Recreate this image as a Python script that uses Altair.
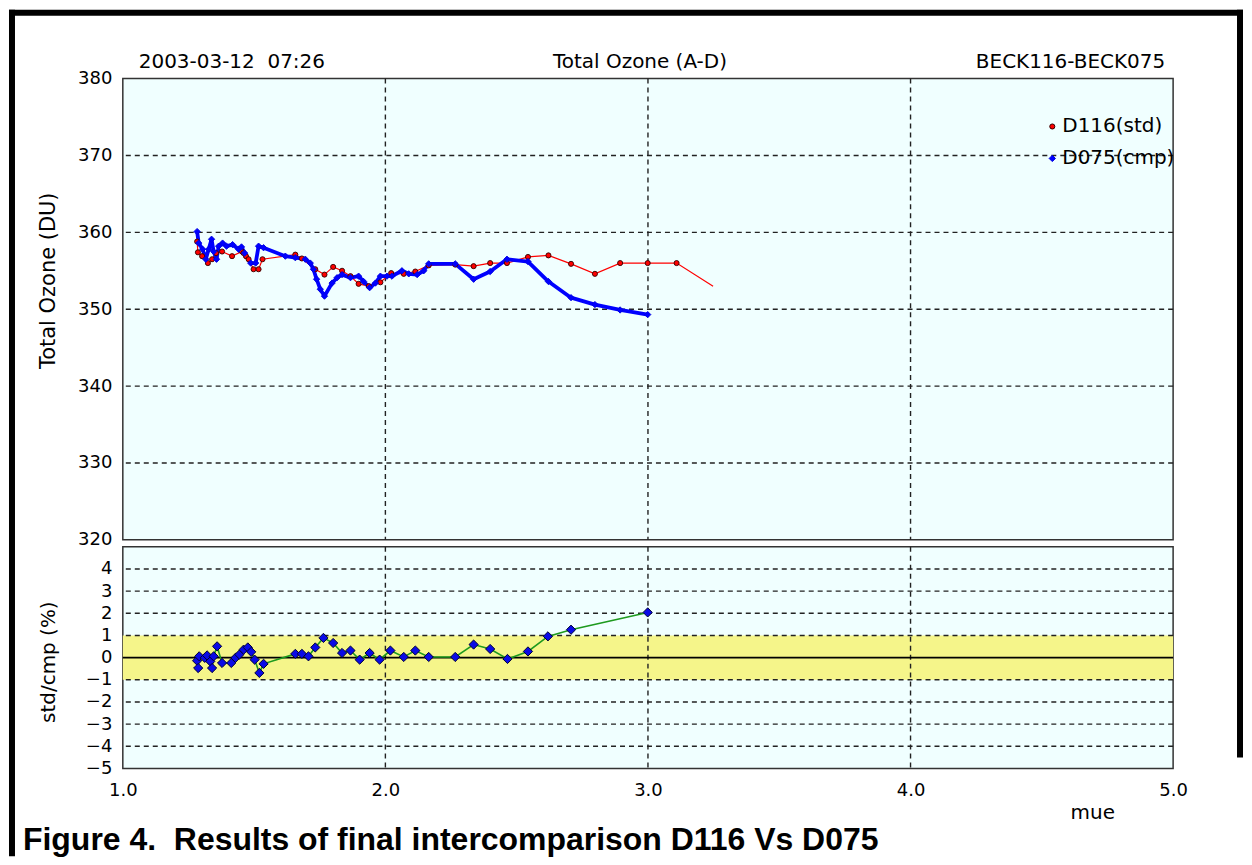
import altair as alt
import pandas as pd

# ---------------- data ----------------
mu_std = [1.283, 1.286, 1.302, 1.324, 1.340, 1.355, 1.378, 1.416, 1.454, 1.460,
          1.469, 1.479, 1.498, 1.517, 1.532, 1.657, 1.682, 1.733, 1.768, 1.801,
          1.835, 1.867, 1.898, 1.937, 1.981, 2.022, 2.070, 2.114, 2.165, 2.266,
          2.336, 2.399, 2.463, 2.543, 2.621, 2.707, 2.798, 2.894, 2.999, 3.109,
          3.248]
oz_std = [358.8, 357.4, 356.9, 356.0, 356.5, 357.3, 357.5, 356.9, 357.5, 357.3,
          356.9, 356.5, 355.2, 355.2, 356.5, 357.1, 356.6, 355.2, 354.5, 355.5,
          355.0, 354.3, 353.3, 353.0, 353.5, 354.7, 354.6, 354.9, 355.7, 355.8,
          355.6, 356.0, 356.0, 356.8, 357.0, 355.9, 354.6, 356.0, 356.0, 356.0,
          353.0]

mu_cmp = [1.283, 1.289, 1.304, 1.316, 1.327, 1.338, 1.346, 1.357, 1.365, 1.380,
          1.395, 1.418, 1.441, 1.452, 1.464, 1.487, 1.506, 1.517, 1.536, 1.619,
          1.657, 1.695, 1.714, 1.726, 1.738, 1.752, 1.768, 1.797, 1.816, 1.835,
          1.867, 1.898, 1.917, 1.940, 1.962, 1.981, 2.006, 2.025, 2.063, 2.089,
          2.121, 2.146, 2.165, 2.266, 2.336, 2.399, 2.463, 2.543, 2.621, 2.707,
          2.798, 2.894, 2.999]
oz_cmp = [360.1, 358.6, 357.8, 356.5, 357.8, 359.1, 357.5, 356.5, 358.2, 358.6,
          358.2, 358.4, 357.8, 358.1, 357.3, 356.0, 356.0, 358.2, 358.0, 356.9,
          356.7, 356.5, 356.0, 355.2, 353.9, 352.6, 351.7, 353.4, 354.1, 354.5,
          354.1, 354.3, 353.6, 352.8, 353.4, 354.3, 354.3, 354.3, 355.0, 354.6,
          354.5, 355.0, 355.9, 355.9, 353.9, 354.9, 356.5, 356.2, 353.6, 351.5,
          350.6, 349.9, 349.3]

mu_ratio = [1.283, 1.287, 1.291, 1.312, 1.321, 1.333, 1.340, 1.346, 1.359, 1.378,
            1.413, 1.429, 1.444, 1.460, 1.476, 1.489, 1.502, 1.520, 1.536, 1.657,
            1.682, 1.707, 1.733, 1.764, 1.801, 1.835, 1.867, 1.902, 1.940, 1.978,
            2.019, 2.070, 2.114, 2.165, 2.266, 2.336, 2.399, 2.465, 2.543, 2.619,
            2.707, 2.999]
ratio = [-0.14, -0.47, 0.06, -0.01, 0.10, -0.17, -0.47, 0.06, 0.51, -0.24,
         -0.24, -0.01, 0.14, 0.36, 0.46, 0.26, -0.09, -0.69, -0.28, 0.17,
         0.17, 0.06, 0.46, 0.89, 0.66, 0.21, 0.32, -0.09, 0.21, -0.09,
         0.32, 0.03, 0.32, 0.03, 0.03, 0.59, 0.39, -0.06, 0.28, 0.96,
         1.26, 2.04]

series_names = ["D116(std)", "D075(cmp)"]
x_ticks = [1.0, 2.0, 3.0, 4.0, 5.0]
x_grid = [2.0, 3.0, 4.0]
oz_ticks = [320, 330, 340, 350, 360, 370, 380]
oz_grid = [330, 340, 350, 360, 370]
ratio_ticks = [-5, -4, -3, -2, -1, 0, 1, 2, 3, 4]
ratio_grid = [-4, -3, -2, -1, 1, 2, 3, 4]
band_lo, band_hi = [-1], [1]
zero_line = [0]
header_left = ["2003-03-12 \u00a007:26"]
header_center = ["Total Ozone (A-D)"]
header_right = ["BECK116-BECK075"]
caption = ["Figure 4. \u00a0Results of final intercomparison D116 Vs D075"]

# ---------------- styling ----------------
FONT = "DejaVu Sans"
W, H1, H2 = 1052, 462, 222
GRID = dict(color="#222222", strokeDash=[5, 4], strokeWidth=1.4)

xscale = alt.Scale(domain=[1, 5], nice=False, zero=False)
ozscale = alt.Scale(domain=[320, 380], nice=False, zero=False)
rscale = alt.Scale(domain=[-5, 5], nice=False, zero=False)

oz_axis = alt.Axis(values=oz_ticks, grid=False, ticks=False, tickSize=0, domain=False,
                   labelPadding=11, labelFontSize=18, labelFont=FONT, labelColor="black",
                   title="Total Ozone (DU)", titleFont=FONT, titleFontSize=21,
                   titleFontWeight="normal", titleColor="black", titleAngle=270,
                   titleBaseline="middle", titleAlign="center", titleX=-74, titleY=202)
r_axis = alt.Axis(values=ratio_ticks, grid=False, ticks=False, tickSize=0, domain=False,
                  labelPadding=11, labelFontSize=18, labelFont=FONT, labelColor="black",
                  title="std/cmp (%)", titleFont=FONT, titleFontSize=20,
                  titleFontWeight="normal", titleColor="black", titleAngle=270,
                  titleBaseline="middle", titleAlign="center", titleX=-74, titleY=115)
x_axis = alt.Axis(values=x_ticks, format=".1f", grid=False, ticks=False, tickSize=0,
                  domain=False, labelPadding=13, labelFontSize=18, labelFont=FONT,
                  labelColor="black", labelFlush=False, labelOverlap=False,
                  title="mue", titleFont=FONT, titleFontSize=20, titleFontWeight="normal",
                  titleColor="black", titleX=971, titleY=50, titleBaseline="alphabetic",
                  titleAlign="center")

X_top = alt.X("mu:Q", scale=xscale, axis=None)
X_bot = alt.X("mu:Q", scale=xscale, axis=x_axis)
Y_top = alt.Y("oz:Q", scale=ozscale, axis=oz_axis)
Y_bot = alt.Y("r:Q", scale=rscale, axis=r_axis)

# ---------------- tables ----------------
std_df = pd.DataFrame({"mu": mu_std, "oz": oz_std, "i": range(len(mu_std))})
cmp_df = pd.DataFrame({"mu": mu_cmp, "oz": oz_cmp, "i": range(len(mu_cmp))})
pts_df = pd.concat([
    std_df.iloc[:-1].assign(series=series_names[0]),
    cmp_df.assign(series=series_names[1]),
], ignore_index=True)
ratio_df = pd.DataFrame({"mu": mu_ratio, "r": ratio, "i": range(len(mu_ratio))})
one = pd.DataFrame({"k": [0]})

# ---------------- top panel ----------------
hgrid_top = alt.Chart(pd.DataFrame({"oz": oz_grid})).mark_rule(**GRID).encode(y=Y_top)
vgrid_top = alt.Chart(pd.DataFrame({"mu": x_grid})).mark_rule(**GRID).encode(x=X_top)

red_line = alt.Chart(std_df).mark_line(color="#FF0000", strokeWidth=1.2).encode(
    x=X_top, y=Y_top, order="i:Q")
blue_line = alt.Chart(cmp_df).mark_line(color="#0000FF", strokeWidth=3.8,
                                        strokeJoin="round").encode(
    x=X_top, y=Y_top, order="i:Q")

LEG = alt.Legend(title=None, orient="none", legendX=921, legendY=38,
                 labelFont=FONT, labelFontSize=20, labelColor="black",
                 rowPadding=12, labelOffset=0, padding=0,
                 symbolStrokeWidth=1)
points_top = alt.Chart(pts_df).mark_point(filled=True, opacity=1, strokeWidth=0.9).encode(
    x=X_top, y=Y_top,
    fill=alt.Fill("series:N", scale=alt.Scale(domain=series_names,
                                              range=["#FF0000", "#0000FF"]), legend=LEG),
    shape=alt.Shape("series:N", scale=alt.Scale(domain=series_names,
                                                range=["circle", "diamond"]), legend=LEG),
    stroke=alt.Stroke("series:N", scale=alt.Scale(domain=series_names,
                                                  range=["#300000", "#0000E0"]), legend=LEG),
    size=alt.Size("series:N", scale=alt.Scale(domain=series_names, range=[26, 40]),
                  legend=LEG),
)

hdr_l = alt.Chart(pd.DataFrame({"t": header_left})).mark_text(
    font=FONT, fontSize=20, align="left", baseline="middle", color="black").encode(
    text="t:N", x=alt.value(16), y=alt.value(-17))
hdr_c = alt.Chart(pd.DataFrame({"t": header_center})).mark_text(
    font=FONT, fontSize=20, align="center", baseline="middle", color="black").encode(
    text="t:N", x=alt.value(518), y=alt.value(-17))
hdr_r = alt.Chart(pd.DataFrame({"t": header_right})).mark_text(
    font=FONT, fontSize=20, align="right", baseline="middle", color="black").encode(
    text="t:N", x=alt.value(1044), y=alt.value(-17))

border_top = alt.Chart(one).mark_rect(color="black").encode(
    x=alt.value(-114), x2=alt.value(1122), y=alt.value(-69), y2=alt.value(-63))
border_left = alt.Chart(one).mark_rect(color="black").encode(
    x=alt.value(-114), x2=alt.value(-108), y=alt.value(-69), y2=alt.value(779))
border_right = alt.Chart(one).mark_rect(color="black").encode(
    x=alt.value(1116), x2=alt.value(1122), y=alt.value(-69), y2=alt.value(680))

top = alt.layer(hgrid_top, vgrid_top, red_line, blue_line, points_top,
                hdr_l, hdr_c, hdr_r, border_top, border_left, border_right
                ).properties(width=W, height=H1)

# ---------------- bottom panel ----------------
band = alt.Chart(pd.DataFrame({"r": band_lo, "r2": band_hi})).mark_rect(
    color="#F5F58A").encode(y=Y_bot, y2="r2:Q")
hgrid_bot = alt.Chart(pd.DataFrame({"r": ratio_grid})).mark_rule(**GRID).encode(y=Y_bot)
vgrid_bot = alt.Chart(pd.DataFrame({"mu": x_grid})).mark_rule(**GRID).encode(x=X_bot)
zero = alt.Chart(pd.DataFrame({"r": zero_line})).mark_rule(
    color="black", strokeWidth=1.6).encode(y=Y_bot)
green = alt.Chart(ratio_df).mark_line(color="#1E9A1E", strokeWidth=1.6).encode(
    x=X_bot, y=Y_bot, order="i:Q")
diamonds = alt.Chart(ratio_df).mark_point(
    shape="diamond", filled=True, fill="#0A0AE6", stroke="#000033", strokeWidth=1,
    size=85, opacity=1).encode(x=X_bot, y=Y_bot)
cap = alt.Chart(pd.DataFrame({"t": caption})).mark_text(
    font="Liberation Sans", fontSize=32, fontWeight="bold", align="left",
    baseline="alphabetic", color="black").encode(
    text="t:N", x=alt.value(-100), y=alt.value(304))

bottom = alt.layer(band, hgrid_bot, vgrid_bot, zero, green, diamonds, cap
                   ).properties(width=W, height=H2)

chart = alt.vconcat(top, bottom, spacing=7, bounds="flush", padding=0,
                    background="white").configure_view(
    fill="#F0FFFF", stroke="#333333", strokeWidth=1.5
).configure_axis(labelFont=FONT, titleFont=FONT)

chart.save("out.html", embed_options={"renderer": "svg", "actions": False})
